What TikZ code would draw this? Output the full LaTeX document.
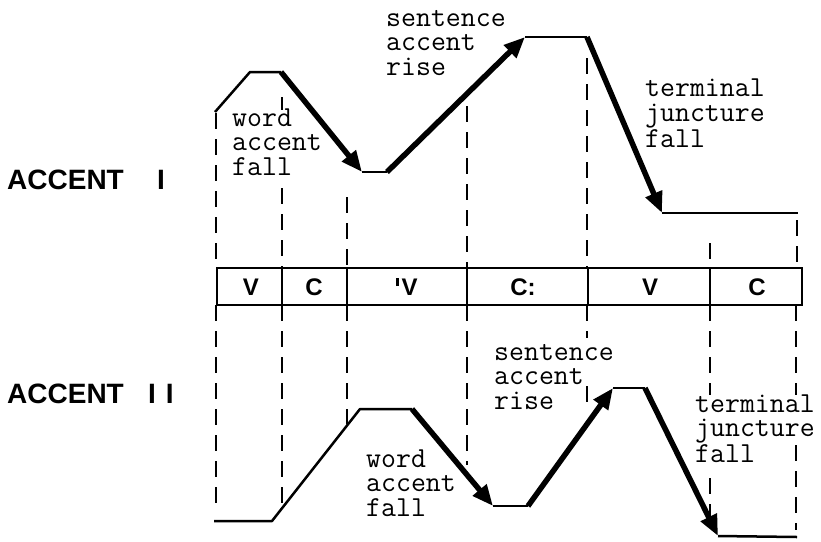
\documentclass[tikz,border=0pt]{standalone}
\usepackage{fontspec}
\newfontfamily\hv{Liberation Sans}
\usetikzlibrary{arrows.meta}
\begin{document}
\begin{tikzpicture}[x=1pt,y=-1pt,
  thinl/.style={line width=2.5pt,line join=round},
  thickarrow/.style={line width=5.5pt,-{Triangle[length=21pt,width=17pt]}},
  dashl/.style={line width=2.6pt,dash pattern=on 16pt off 10pt},
  tw/.style={font=\ttfamily\fontsize{29}{24.5}\selectfont,anchor=base west,inner sep=0pt,align=left},
  seg/.style={font=\hv\bfseries\fontsize{24}{24}\selectfont,anchor=base,inner sep=0pt},
  acc/.style={font=\hv\bfseries\fontsize{28}{28}\selectfont,anchor=base west,inner sep=0pt}]
\useasboundingbox (0,0) rectangle (821,541);

% ---------- segment bar ----------
\draw[line width=2.5pt] (217,268) rectangle (802,305);
\foreach \x in {282,347,467,588,710}
  \draw[line width=2.5pt] (\x,268) -- (\x,305);
\node[seg] (s1) at (251,295) {V};
\node[seg] (s2) at (314,295) {C};
\node[seg] (s3) at (407,295) {\rule[9pt]{2.2pt}{8pt}\hspace{3pt}V};
\node[seg] (s4) at (523,295) {C:};
\node[seg] (s5) at (650,295) {V};
\node[seg] (s6) at (757,295) {C};

% ---------- row labels ----------
\node[acc] (a1) at (7,189) {ACCENT};
\node[acc] (a1n) at (157,189) {I};
\node[acc] (a2) at (7,403) {ACCENT};
\node[acc] (a2n) at (148,403) {I\hspace{10pt}I};

% ---------- dashed lines, top ----------
\draw[dashl] (216,113) -- (216,268);
\draw[dashl] (282,97) -- (282,110);
\draw[dashl] (282,188) -- (282,268);
\draw[dashl] (347,197) -- (347,268);
\draw[dashl] (467,106) -- (467,268);
\draw[dashl] (587,58) -- (587,268);
\draw[dashl] (710,243) -- (710,268);
\draw[dashl] (797,220) -- (797,268);

% ---------- dashed lines, bottom ----------
\draw[dashl] (216,305) -- (216,513);
\draw[dashl] (282,305) -- (282,509);
\draw[dashl] (347,305) -- (347,424);
\draw[dashl] (467,305) -- (467,465);
\draw[dashl] (587,305) -- (587,338);
\draw[dashl] (587,386) -- (587,404);
\draw[dashl] (710,305) -- (710,395);
\draw[dashl] (710,478) -- (710,523);
\draw[dashl] (796,305) -- (796,395);
\draw[dashl] (796,445) -- (796,530);

% ---------- Accent I contour ----------
\coordinate (t0) at (215,112);
\coordinate (t1) at (250,72);
\coordinate (t2) at (281,72);
\coordinate (t3) at (362,172);
\coordinate (t4) at (387,172);
\coordinate (t5) at (525,37);
\coordinate (t6) at (587,37);
\coordinate (t7) at (662,213);
\coordinate (t8) at (798,213);
\draw[thinl] (t0) -- (t1) -- (t2);
\draw[thickarrow] (t2) -- (t3);
\draw[thinl] (t3) -- (t4);
\draw[thickarrow] (t4) -- (t5);
\draw[thinl] (t5) -- (t6);
\draw[thickarrow] (t6) -- (t7);
\draw[thinl] (t7) -- (t8);

% ---------- Accent II contour ----------
\coordinate (b0) at (214,521);
\coordinate (b1) at (272,521);
\coordinate (b2) at (360,409);
\coordinate (b3) at (412,409);
\coordinate (b4) at (493,506);
\coordinate (b5) at (528,506);
\coordinate (b6) at (613,388);
\coordinate (b7) at (645,388);
\coordinate (b8) at (718,536);
\coordinate (b9) at (797,537);
\draw[thinl] (b0) -- (b1) -- (b2) -- (b3);
\draw[thickarrow] (b3) -- (b4);
\draw[thinl] (b4) -- (b5);
\draw[thickarrow] (b5) -- (b6);
\draw[thinl] (b6) -- (b7);
\draw[thickarrow] (b7) -- (b8);
\draw[thinl] (b8) -- (b9);

% ---------- labels (anchor = baseline of last line) ----------
\node[tw] (tw) at (232,175) {word\\accent\\fall};
\node[tw] (ts) at (386,75) {sentence\\accent\\rise};
\node[tw] (tt) at (645,147) {terminal\\juncture\\fall};
\node[tw] (bs) at (494,409) {sentence\\accent\\rise};
\node[tw] (bw) at (366,516) {word\\accent\\fall};
\node[tw] (bt) at (695,462) {terminal\\juncture\\fall};
\end{tikzpicture}
\end{document}
